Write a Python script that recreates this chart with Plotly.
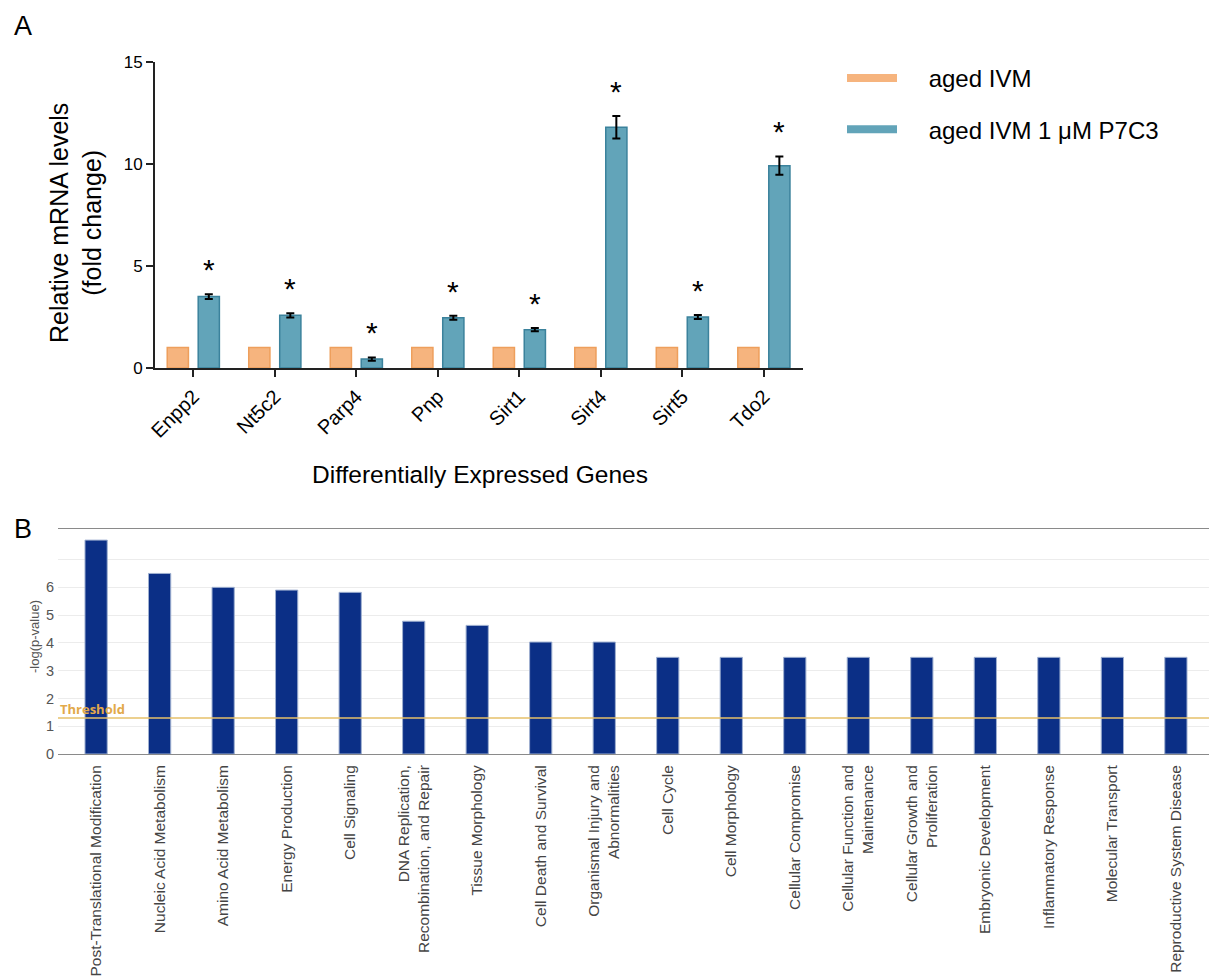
import plotly.graph_objects as go

# ---------------- Panel A data ----------------
genes = ["Enpp2", "Nt5c2", "Parp4", "Pnp", "Sirt1", "Sirt4", "Sirt5", "Tdo2"]
aged_ivm = [1, 1, 1, 1, 1, 1, 1, 1]
aged_p7c3 = [3.5, 2.58, 0.44, 2.46, 1.88, 11.8, 2.5, 9.92]
aged_p7c3_err = [0.12, 0.1, 0.08, 0.1, 0.08, 0.55, 0.1, 0.45]
significant = [True, True, True, True, True, True, True, True]

# ---------------- Panel B data ----------------
categories = [
    "Post-Translational Modification",
    "Nucleic Acid Metabolism",
    "Amino Acid Metabolism",
    "Energy Production",
    "Cell Signaling",
    "DNA Replication,<br>Recombination, and Repair",
    "Tissue Morphology",
    "Cell Death and Survival",
    "Organismal Injury and<br>Abnormalities",
    "Cell Cycle",
    "Cell Morphology",
    "Cellular Compromise",
    "Cellular Function and<br>Maintenance",
    "Cellular Growth and<br>Proliferation",
    "Embryonic Development",
    "Inflammatory Response",
    "Molecular Transport",
    "Reproductive System Disease",
]
neg_log_p = [7.7, 6.5, 6.0, 5.9, 5.82, 4.78, 4.63, 4.03, 4.03,
             3.48, 3.48, 3.48, 3.48, 3.48, 3.48, 3.48, 3.48, 3.48]
threshold = 1.3
b_ticks = [0, 1, 2, 3, 4, 5, 6, 7]
b_ticktext = ["0", "1", "2", "3", "4", "5", "6", ""]

ORANGE = "#f6b47e"
ORANGE_EDGE = "#ee9f5c"
TEAL = "#62a4b9"
TEAL_EDGE = "#3b829c"
NAVY = "#0b2f86"

W, H = 1217, 978
OFF = 8  # page body margin
FA = "Liberation Sans, Arial, sans-serif"
FB = "Liberation Sans, Arial, sans-serif"
NB = "\u00a0"

fig = go.Figure()

# Panel A bars
fig.add_trace(go.Bar(
    x=genes, y=aged_ivm, name="aged IVM", xaxis="x", yaxis="y",
    width=0.26, offset=-0.32,
    marker=dict(color=ORANGE, line=dict(color=ORANGE_EDGE, width=1.5)),
    showlegend=False,
))
fig.add_trace(go.Bar(
    x=genes, y=aged_p7c3, name="aged IVM 1 μM P7C3", xaxis="x", yaxis="y",
    width=0.26, offset=0.06,
    marker=dict(color=TEAL, line=dict(color=TEAL_EDGE, width=1.5)),
    error_y=dict(type="data", array=aged_p7c3_err, color="black", thickness=2, width=4),
    showlegend=False,
))
# legend proxies
fig.add_trace(go.Scatter(x=[None], y=[None], mode="lines", name=NB * 4 + "aged IVM",
                         line=dict(color=ORANGE, width=8), xaxis="x", yaxis="y",
                         legendgroup="a"))
fig.add_trace(go.Scatter(x=[None], y=[None], mode="lines", name=NB * 4 + "aged IVM 1 μM P7C3",
                         line=dict(color=TEAL, width=8), xaxis="x", yaxis="y",
                         legendgroup="b"))

# stars
annotations = []
for i, g in enumerate(genes):
    if significant[i]:
        annotations.append(dict(
            x=i + 0.19, y=aged_p7c3[i] + aged_p7c3_err[i], xref="x", yref="y",
            text="*", showarrow=False, yanchor="bottom", yshift=6,
            font=dict(family=FA, size=30, color="black"),
        ))

# Panel B bars
fig.add_trace(go.Bar(
    x=categories, y=neg_log_p, xaxis="x2", yaxis="y2", width=0.35,
    marker=dict(color=NAVY, line=dict(color="#9fb0d0", width=1)),
    showlegend=False,
))

def px_x(p):
    return (p - OFF) / W

def px_y(p):
    return 1 - (p - OFF) / H

layout_shapes = [
    dict(type="line", xref="x2", yref="y2", x0=-0.6, x1=17.6, y0=threshold, y1=threshold,
         line=dict(color="#e6c06a", width=1.5)),
    dict(type="line", xref="x2 domain", yref="y2 domain", x0=1, x1=1, y0=0, y1=1,
         line=dict(color="#8a8a8a", width=1)),
]

annotations += [
    dict(text="A", x=px_x(12), y=px_y(9), xref="paper", yref="paper", showarrow=False,
         xanchor="left", yanchor="top", font=dict(family=FA, size=27, color="black")),
    dict(text="B", x=px_x(12), y=px_y(512), xref="paper", yref="paper", showarrow=False,
         xanchor="left", yanchor="top", font=dict(family=FA, size=27, color="black")),
    dict(text="Relative mRNA levels<br>(fold change)", x=px_x(75), y=px_y(223),
         xref="paper", yref="paper", showarrow=False, textangle=-90,
         xanchor="center", yanchor="middle", font=dict(family=FA, size=25, color="black")),
    dict(text="Differentially Expressed Genes", x=px_x(480), y=px_y(474),
         xref="paper", yref="paper", showarrow=False,
         xanchor="center", yanchor="middle", font=dict(family=FA, size=24.5, color="black")),
    dict(text="-log(p-value)", x=px_x(34), y=px_y(637),
         xref="paper", yref="paper", showarrow=False, textangle=-90,
         xanchor="center", yanchor="middle", font=dict(family=FB, size=13, color="#555")),
    dict(text="<b>Threshold</b>", x=0, y=threshold, xref="x2 domain", yref="y2",
         showarrow=False, xanchor="left", yanchor="bottom", yshift=-2,
         font=dict(family="Open Sans, sans-serif", size=13, color="#e2a94a")),
]

fig.update_layout(
    template="none",
    width=W, height=H, autosize=False,
    margin=dict(l=0, r=0, t=0, b=0, pad=0, autoexpand=False),
    paper_bgcolor="white", plot_bgcolor="white",
    barmode="overlay",
    showlegend=True,
    legend=dict(x=px_x(842), y=px_y(56), xanchor="left", yanchor="top",
                font=dict(family=FA, size=24, color="black"),
                tracegroupgap=17, bgcolor="rgba(0,0,0,0)", itemwidth=50),
    xaxis=dict(domain=[px_x(155), px_x(803)], anchor="y", type="category",
               range=[-0.47, 7.48], showline=True, linecolor="#222", linewidth=2,
               ticks="outside", ticklen=7, tickwidth=2, tickcolor="#222",
               tickangle=-45, showgrid=False, zeroline=False, automargin=False,
               tickfont=dict(family=FA, size=20, color="black")),
    yaxis=dict(domain=[px_y(368), px_y(62)], anchor="x", range=[0, 15],
               tickvals=[0, 5, 10, 15], showline=True, linecolor="#222", linewidth=2,
               ticks="outside", ticklen=7, tickwidth=2, tickcolor="#222",
               showgrid=False, zeroline=False, automargin=False,
               tickfont=dict(family=FA, size=17, color="black")),
    xaxis2=dict(domain=[px_x(58), px_x(1214)], anchor="y2", type="category",
                range=[-0.6, 17.6], showline=True, mirror=True, linecolor="#8a8a8a",
                linewidth=1, ticks="", showgrid=False, zeroline=False, tickangle=-90,
                automargin=False, ticklabelstandoff=4,
                tickfont=dict(family=FB, size=15.5, color="#444")),
    yaxis2=dict(domain=[px_y(754), px_y(529)], anchor="x2", range=[0, 8.1],
                tickvals=b_ticks, ticktext=b_ticktext, showline=False,
                showgrid=True, gridcolor="#ececec", gridwidth=1, zeroline=False,
                ticks="", automargin=False, ticklabelstandoff=3,
                tickfont=dict(family=FB, size=14.5, color="#555")),
    shapes=layout_shapes,
    annotations=annotations,
)

fig.write_html("out.html")
